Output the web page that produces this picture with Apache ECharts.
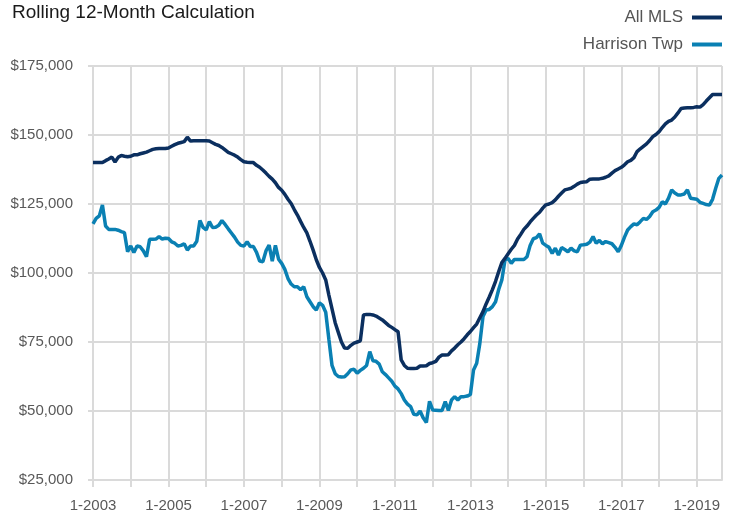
<!DOCTYPE html>
<html>
<head>
<meta charset="utf-8">
<title>Rolling 12-Month Calculation</title>
<script src="https://cdn.jsdelivr.net/npm/echarts@6/dist/echarts.min.js"></script>
<style>
    html, body { margin: 0; padding: 0; background: #fff; }
    #main { width: 733px; height: 515px; }
</style>
</head>
<body>
<div id="main"></div>
<script>
    // monthly values, 1-2003 .. 9-2019 (in $1,000)
    var allMls = [
        140.0, 140.0, 140.0, 140.0, 140.7, 141.3, 142.0, 140.2, 141.9, 142.6, 142.3, 142.1,
        142.3, 142.8, 142.8, 143.2, 143.5, 143.8, 144.3, 144.8, 145.0, 145.1, 145.1, 145.1,
        145.3, 145.9, 146.5, 147.0, 147.3, 147.6, 149.2, 147.8, 147.9, 147.9, 147.9, 147.9,
        147.9, 147.8, 147.2, 146.6, 146.2, 145.5, 144.6, 143.7, 143.2, 142.7, 142.0, 141.1,
        140.3, 140.1, 140.0, 140.0, 139.0, 138.3, 137.3, 136.2, 135.0, 134.0, 132.7, 131.0,
        130.0, 128.5, 126.7, 125.2, 123.0, 121.0, 118.7, 116.5, 114.5, 111.5, 108.3, 104.8,
        102.0, 100.0, 97.5, 92.0, 87.0, 82.0, 78.5, 75.0, 72.8, 72.7, 73.8, 74.6,
        75.0, 75.4, 84.8, 85.0, 85.0, 84.8, 84.4, 83.7, 83.0, 82.0, 81.0, 80.3,
        79.5, 78.7, 68.5, 66.5, 65.5, 65.4, 65.4, 65.5, 66.3, 66.3, 66.4, 67.2,
        67.5, 68.0, 69.5, 70.3, 70.3, 70.4, 71.8, 72.8, 74.0, 75.0, 76.2, 77.6,
        78.8, 80.2, 81.5, 83.8, 86.0, 88.8, 91.3, 94.0, 97.0, 100.5, 103.8, 105.3,
        107.0, 108.6, 110.0, 112.3, 114.0, 115.8, 117.0, 118.5, 119.8, 121.0, 122.0, 123.5,
        124.7, 125.0, 125.5, 126.5, 127.8, 129.0, 130.1, 130.4, 130.7, 131.4, 132.2, 132.8,
        133.0, 133.1, 134.0, 134.1, 134.1, 134.1, 134.3, 134.7, 135.2, 136.2, 137.1, 137.7,
        138.3, 139.2, 140.3, 140.8, 141.8, 144.0, 145.0, 145.9, 146.8, 148.0, 149.4, 150.2,
        151.2, 152.7, 154.0, 154.9, 155.4, 156.5, 158.0, 159.6, 159.8, 159.9, 159.9, 160.0,
        160.2, 160.1, 161.0, 162.3, 163.5, 164.7, 164.7, 164.7, 164.7
    ];
    var harrisonTwp = [
        117.8, 119.8, 120.7, 124.6, 117.0, 115.8, 115.8, 115.8, 115.5, 115.0, 114.6, 107.7,
        109.8, 107.4, 109.8, 109.5, 108.0, 105.9, 112.2, 112.2, 112.3, 113.2, 112.3, 112.6,
        112.5, 111.3, 110.8, 109.8, 110.0, 110.6, 108.3, 109.8, 109.8, 111.5, 119.0, 116.5,
        115.6, 118.6, 116.5, 116.6, 117.3, 119.0, 117.6, 116.0, 114.5, 113.0, 111.2, 110.0,
        109.8, 111.3, 109.6, 109.6, 107.5, 104.3, 104.1, 108.0, 110.1, 104.3, 110.0, 105.0,
        103.5, 101.3, 98.0, 96.0, 95.0, 95.0, 94.0, 95.0, 91.4, 89.6, 87.8, 86.6,
        89.2, 88.3, 85.8, 76.0, 66.5, 63.5, 62.5, 62.3, 62.4, 63.5, 64.9, 65.1,
        63.7, 64.7, 65.5, 66.5, 71.5, 68.2, 68.0, 67.0, 64.2, 63.2, 62.0, 60.8,
        59.0, 58.0, 56.3, 54.0, 52.5, 51.6, 48.8, 48.6, 50.0, 47.5, 45.8, 53.5,
        50.4, 50.3, 50.2, 50.2, 53.4, 50.2, 54.0, 55.2, 54.0, 55.2, 55.2, 55.4,
        56.0, 64.9, 67.3, 74.5, 84.2, 86.6, 86.8, 87.8, 89.6, 94.0, 97.5, 104.7,
        105.3, 103.5, 104.9, 104.9, 104.9, 104.9, 105.9, 110.0, 112.4, 112.8, 114.2, 110.8,
        110.0, 109.3, 107.1, 109.0, 106.5, 109.2, 108.5, 107.7, 109.0, 108.0, 107.7, 110.1,
        110.2, 110.4, 111.2, 113.2, 110.8, 111.8, 110.6, 111.4, 111.0, 110.6, 109.3, 107.7,
        110.0, 113.0, 115.6, 116.8, 117.8, 117.5, 118.6, 119.8, 119.4, 120.5, 122.2, 122.8,
        123.8, 125.8, 125.0, 127.1, 130.1, 129.0, 128.3, 128.3, 128.6, 130.1, 127.1, 126.9,
        126.7, 125.6, 125.2, 124.8, 124.6, 126.7, 130.7, 134.3, 135.5
    ];
    var seriesNames = ["All MLS", "Harrison Twp"];
    var seriesColors = ["#0b2f5f", "#0a80b3"];
    var startYear = 2003;
    var yTicks = [25000, 50000, 75000, 100000, 125000, 150000, 175000];

    // month labels like "1-2003"
    var months = [];
    for (var i = 0; i < allMls.length; i++) {
        months.push((i % 12 + 1) + "-" + (startYear + Math.floor(i / 12)));
    }
    var lastIdx = months.length - 1;

    var gridColor = "#dadada";
    var fontName = "'Liberation Sans', Arial, sans-serif";

    var chart = echarts.init(document.getElementById("main"));
    var option = {
        animation: false,
        backgroundColor: "#fff",
        title: {
            text: "Rolling 12-Month Calculation",
            left: 12,
            top: 3,
            padding: 0,
            textStyle: { fontFamily: fontName, fontSize: 19, fontWeight: "normal", color: "#1a1a1a" }
        },
        legend: {
            orient: "vertical",
            right: 11,
            top: 9,
            padding: 0,
            align: "right",
            itemGap: 10,
            itemWidth: 30,
            itemHeight: 4,
            icon: "rect",
            data: seriesNames,
            textStyle: { fontFamily: fontName, fontSize: 17, color: "#555", padding: [0, 4, 0, 0] }
        },
        grid: { left: 93, right: 11, top: 66, bottom: 35 },
        xAxis: {
            type: "category",
            boundaryGap: false,
            data: months,
            axisLine: { show: true, lineStyle: { color: gridColor, width: 2 } },
            axisTick: {
                show: true,
                length: 7,
                interval: function (idx) { return idx % 12 === 0; },
                lineStyle: { color: gridColor, width: 2 }
            },
            axisLabel: {
                interval: function (idx) { return idx % 24 === 0; },
                margin: 18,
                fontFamily: fontName,
                fontSize: 15,
                color: "#595959"
            },
            splitLine: {
                show: true,
                interval: function (idx) { return idx % 12 === 0 || idx === lastIdx; },
                lineStyle: { color: gridColor, width: 2 }
            }
        },
        yAxis: {
            type: "value",
            min: yTicks[0],
            max: yTicks[yTicks.length - 1],
            interval: 25000,
            axisLine: { show: true, lineStyle: { color: gridColor, width: 2 } },
            axisTick: { show: true, length: 5, lineStyle: { color: gridColor, width: 2 } },
            axisLabel: {
                margin: 20,
                fontFamily: fontName,
                fontSize: 15,
                color: "#595959",
                formatter: function (v) { return "$" + v.toLocaleString("en-US"); }
            },
            splitLine: { show: true, lineStyle: { color: gridColor, width: 2 } }
        },
        series: [
            {
                name: seriesNames[0],
                type: "line",
                data: allMls.map(function (v) { return Math.round(v * 1000); }),
                showSymbol: false,
                symbol: "none",
                color: seriesColors[0],
                lineStyle: { width: 3.5, color: seriesColors[0] },
                z: 3
            },
            {
                name: seriesNames[1],
                type: "line",
                data: harrisonTwp.map(function (v) { return Math.round(v * 1000); }),
                showSymbol: false,
                symbol: "none",
                color: seriesColors[1],
                lineStyle: { width: 3.5, color: seriesColors[1] },
                z: 2
            }
        ]
    };
    chart.setOption(option);
</script>
</body>
</html>
